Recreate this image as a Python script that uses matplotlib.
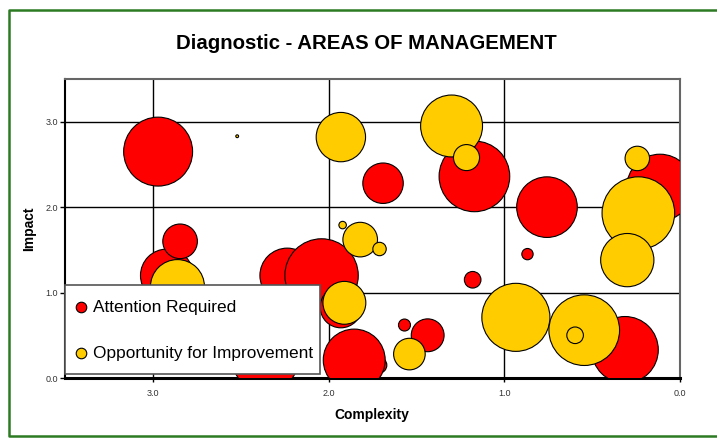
import matplotlib
matplotlib.use("Agg")
import matplotlib.pyplot as plt
from matplotlib.lines import Line2D
from matplotlib.legend_handler import HandlerLine2D
import numpy as np

plt.rcParams['font.family'] = ['Liberation Sans', 'DejaVu Sans']

# ---- data ----
title = "Diagnostic - AREAS OF MANAGEMENT"
x_label = "Complexity"
y_label = "Impact"
series_names = ["Attention Required", "Opportunity for Improvement"]

red_x = [2.97, 2.92, 2.845, 2.235, 2.04, 1.93, 1.714, 1.854, 2.36, 1.69, 1.17,
         0.757, 0.114, 0.868, 1.18, 1.568, 1.436, 0.313]
red_y = [2.65, 1.20, 1.60, 1.20, 1.20, 0.83, 0.15, 0.21, 0.22, 2.28, 2.36,
         2.00, 2.23, 1.45, 1.15, 0.62, 0.50, 0.33]
red_size = [11.9, 7.0, 3.0, 7.5, 13.5, 4.3, 0.64, 9.6, 10.9, 4.1, 12.5,
            9.2, 11.1, 0.32, 0.69, 0.36, 2.7, 11.1]

yel_x = [2.52, 1.93, 2.86, 1.92, 1.82, 1.91, 1.30, 1.215, 0.243, 0.237, 0.30,
         1.71, 0.934, 0.545, 0.597, 1.54]
yel_y = [2.83, 2.82, 1.07, 1.79, 1.62, 0.88, 2.95, 2.58, 2.57, 1.93, 1.38,
         1.51, 0.71, 0.56, 0.50, 0.28]
yel_size = [0.02, 6.1, 7.3, 0.14, 3.0, 4.6, 9.6, 1.7, 1.5, 13.2, 7.1,
            0.45, 11.6, 12.5, 0.69, 2.5]

x_ticks = [3.0, 2.0, 1.0, 0.0]
y_ticks = [0.0, 1.0, 2.0, 3.0]
tick_labels_x = ["3.0", "2.0", "1.0", "0.0"]
tick_labels_y = ["0.0", "1.0", "2.0", "3.0"]

colors = ['#ff0000', '#ffcc00']

# ---- figure ----
W, H = 717, 438
fig = plt.figure(figsize=(W / 100, H / 100), dpi=100)
fig.patch.set_facecolor('white')

# green frame (top, left, bottom visible)
fx = [W + 5, 9, 9, W + 5]
fy = [10, 10, 436, 436]
fig.lines.append(Line2D([v / W for v in fx], [1 - v / H for v in fy],
                        transform=fig.transFigure, color='#2c7a22', linewidth=1.8))

ax = fig.add_axes([65 / W, 1 - 378 / H, 615 / W, 299 / H])
ax.set_xlim(3.5, 0.0)
ax.set_ylim(0.0, 3.5)

k = 207.0  # bubble scale
ax.scatter(red_x, red_y, s=[v * k for v in red_size], c=colors[0], edgecolors='black',
           linewidths=0.8, zorder=3)
ax.scatter(yel_x, yel_y, s=[v * k for v in yel_size], c=colors[1], edgecolors='black',
           linewidths=0.8, zorder=4)

ax.set_xticks(x_ticks)
ax.set_xticklabels(tick_labels_x)
ax.set_yticks(y_ticks)
ax.set_yticklabels(tick_labels_y)
ax.tick_params(axis='both', labelsize=6.5, labelcolor='#333333', color='black',
               width=1, direction='out')
ax.tick_params(axis='x', length=3, pad=5)
ax.tick_params(axis='y', length=3.6, pad=1.5)
ax.grid(True, color='black', linewidth=1.0, zorder=1)
ax.set_axisbelow(True)

for side in ['top', 'right']:
    ax.spines[side].set_color('#666666')
    ax.spines[side].set_linewidth(1.5)
ax.spines['left'].set_color('black')
ax.spines['left'].set_linewidth(1.5)
ax.spines['bottom'].set_color('black')
ax.spines['bottom'].set_linewidth(2.2)

ax.set_xlabel(x_label, fontsize=10, fontweight='bold', va='baseline')
ax.xaxis.set_label_coords((372 - 65) / 615, (378 - 419) / 299)
ax.set_ylabel(y_label, fontsize=10, fontweight='bold', va='center', ha='center')
ax.yaxis.set_label_coords((29 - 65) / 615, (378 - 229) / 299)

fig.text(366 / W, 1 - 49.3 / H, title, fontsize=14.7, fontweight='bold',
         ha='center', va='baseline')

LEG_FS = 12.4
LEG_HH = 2.25
shift = 0.35 * LEG_FS * (LEG_HH - 0.7) / 2.0


def lower_marker(legend_handle, orig_handle):
    legend_handle.update_from(orig_handle)
    yd = np.asarray(legend_handle.get_ydata(), dtype=float)
    legend_handle.set_ydata(yd - shift)


handles = [Line2D([], [], marker='o', linestyle='', markersize=7.6,
                  markerfacecolor=c, markeredgecolor='black', markeredgewidth=0.8)
           for c in colors]
leg = ax.legend(handles, series_names, loc='upper left',
                bbox_to_anchor=(0.0, (378 - 285) / 299),
                fontsize=LEG_FS, frameon=True, fancybox=False, shadow=False,
                framealpha=1.0, facecolor='white',
                borderpad=0.4, labelspacing=0.97, handlelength=1.1,
                handleheight=LEG_HH, handletextpad=0.12, borderaxespad=0.0,
                handler_map={Line2D: HandlerLine2D(update_func=lower_marker)})
leg.get_frame().set_edgecolor('#555555')
leg.get_frame().set_linewidth(1.2)
leg.set_zorder(10)

fig.savefig("out.png", dpi=100)
